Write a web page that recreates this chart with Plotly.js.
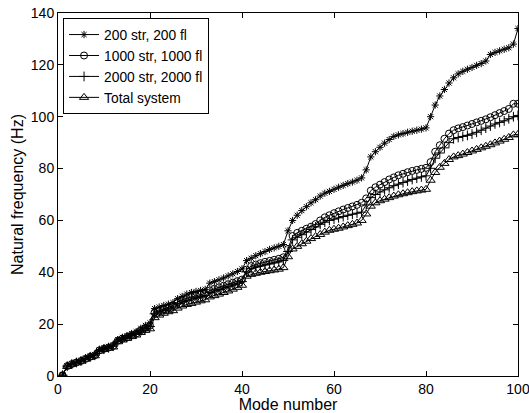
<!DOCTYPE html>
<html>
<head>
<meta charset="utf-8">
<script src="https://cdn.plot.ly/plotly-3.0.1.min.js"></script>
<style>html,body{margin:0;padding:0;background:#fff;}#chart{width:529px;height:413px;}</style>
</head>
<body>
<div id="chart"></div>
<script>
// Mode numbers 1..100 (category index)
const modes = [];
for (let i = 1; i <= 100; i++) modes.push(i);

const seriesNames = ["200 str, 200 fl", "1000 str, 1000 fl", "2000 str, 2000 fl", "Total system"];

const freq200 = [
  0.3, 3.9, 4.8, 5.4, 6.0, 6.9, 7.7, 8.3, 10.2, 10.8, 11.4, 12.0, 14.0, 14.9, 15.6, 16.4, 17.1, 18.4, 19.5, 20.5,
  26.0, 26.6, 27.2, 27.7, 28.3, 29.8, 30.7, 31.6, 32.2, 32.6, 33.0, 33.4, 35.8, 36.4, 37.1, 37.8, 38.6, 39.4, 40.3, 41.3,
  44.5, 45.4, 46.4, 47.2, 48.0, 48.8, 49.4, 50.0, 50.7, 56.0,
  60.0, 62.0, 63.8, 65.3, 66.8, 68.0, 69.4, 70.5, 71.2, 72.0, 72.8, 73.5, 74.2, 74.8, 75.5, 76.4,
  79.5, 84.5, 86.5, 88.2, 89.8, 91.2, 92.4, 93.0, 93.5, 94.0, 94.4, 94.8, 95.2, 95.7,
  100.0, 104.5, 108.0, 110.5, 113.0, 115.0, 116.5, 117.5, 118.3, 119.0, 119.8, 120.5, 121.5, 124.0, 124.8, 125.4, 126.0, 126.6, 128.0, 134.0
];

const freq1000 = [
  0.3, 3.8, 4.6, 5.2, 5.8, 6.6, 7.4, 8.0, 9.9, 10.5, 11.0, 11.6, 13.6, 14.4, 15.0, 15.8, 16.4, 17.6, 18.6, 19.4,
  24.5, 25.2, 25.8, 26.4, 27.2, 28.6, 29.4, 30.0, 30.5, 31.0, 31.4, 31.8, 33.0, 33.6, 34.2, 34.8, 35.4, 36.0, 36.6, 37.2,
  41.0, 42.4, 43.0, 43.5, 44.0, 44.4, 44.8, 45.2, 45.8, 49.0,
  54.0, 55.2, 56.0, 56.8, 57.6, 58.6, 60.0, 61.2, 62.0, 62.8, 63.5, 64.2, 64.8, 65.4, 66.0, 66.8,
  68.5, 71.5, 72.8, 73.8, 74.8, 75.8, 76.6, 77.4, 78.0, 78.6, 79.1, 79.5, 79.9, 80.3,
  82.5, 86.5, 89.0, 91.5, 93.5, 94.8, 95.5, 96.0, 96.6, 97.2, 97.8, 98.4, 99.0, 99.8, 100.6, 101.4, 102.2, 103.0, 105.0, 105.0
];

const freq2000 = [
  0.3, 3.8, 4.6, 5.2, 5.8, 6.6, 7.4, 8.0, 9.8, 10.4, 10.9, 11.5, 13.5, 14.3, 14.9, 15.6, 16.2, 17.4, 18.3, 19.1,
  24.0, 24.7, 25.3, 25.9, 26.6, 27.9, 28.6, 29.2, 29.7, 30.2, 30.6, 31.0, 32.2, 32.8, 33.4, 34.0, 34.6, 35.2, 35.8, 36.4,
  40.2, 41.4, 42.0, 42.4, 42.8, 43.2, 43.6, 44.0, 44.6, 48.0,
  52.5, 53.5, 54.5, 55.5, 56.5, 57.5, 58.5, 59.3, 60.0, 60.5, 61.0, 61.5, 62.0, 62.4, 62.8, 63.2,
  66.0, 68.8, 70.0, 71.0, 71.8, 72.6, 73.4, 74.0, 74.6, 75.2, 75.8, 76.3, 76.8, 77.2,
  80.1, 84.0, 86.0, 88.0, 90.0, 91.5, 92.0, 92.4, 92.8, 93.3, 94.0, 94.8, 95.6, 96.4, 97.2, 97.8, 98.4, 99.2, 100.0, 100.5
];

const freqTotal = [
  0.3, 3.7, 4.5, 5.1, 5.7, 6.5, 7.2, 7.8, 9.6, 10.2, 10.7, 11.2, 13.2, 13.9, 14.5, 15.2, 15.8, 16.8, 17.6, 18.2,
  22.5, 23.5, 24.2, 24.8, 25.2, 26.2, 27.0, 27.6, 28.0, 28.5, 29.0, 29.4, 30.5, 31.0, 31.6, 32.2, 32.8, 33.5, 34.2, 35.0,
  38.5, 39.2, 39.6, 40.0, 40.3, 40.6, 40.9, 41.2, 41.8, 46.0,
  49.0, 50.0, 51.0, 52.0, 53.0, 53.8, 54.6, 55.5, 56.2, 56.6, 57.0, 57.5, 58.0, 58.5, 59.0, 60.0,
  62.5, 65.5, 66.8, 67.6, 68.2, 68.8, 69.4, 69.9, 70.3, 70.7, 71.1, 71.4, 71.7, 72.0,
  75.5, 78.5, 80.5, 82.0, 83.5, 84.5, 85.0, 85.6, 86.2, 86.8, 87.4, 88.0, 88.6, 89.2, 89.9, 90.6, 91.3, 92.0, 93.0, 93.2
];

const xTicks = [0, 20, 40, 60, 80, 100];
const yTicks = [0, 20, 40, 60, 80, 100, 120, 140];

const allY = [freq200, freq1000, freq2000, freqTotal];
const symbols = ["asterisk-open", "circle-open", "cross-thin-open", "triangle-up-open"];
const sizes = [6, 7, 7, 8];

const traces = allY.map((ys, i) => ({
  x: modes,
  y: ys,
  name: seriesNames[i],
  type: "scatter",
  mode: "lines+markers",
  line: {color: "black", width: 1},
  marker: {symbol: symbols[i], size: sizes[i], color: "black", line: {color: "black", width: 1}}
}));

const fontFam = "Liberation Sans, Arial, Helvetica, sans-serif";

const layout = {
  width: 529, height: 413,
  margin: {l: 58, r: 11, t: 13, b: 37, pad: 0},
  paper_bgcolor: "white", plot_bgcolor: "white",
  font: {family: fontFam, color: "black", size: 14},
  showlegend: true,
  legend: {
    x: 0.011, y: 0.986, xanchor: "left", yanchor: "top",
    bordercolor: "black", borderwidth: 1, bgcolor: "white",
    font: {family: fontFam, size: 13.8, color: "black"},
    itemwidth: 30, tracegroupgap: 0
  },
  xaxis: {
    range: [0, 100], tickvals: xTicks, ticktext: xTicks.map(String),
    ticks: "inside", ticklen: 5, tickcolor: "black",
    showline: true, linecolor: "black", linewidth: 1, mirror: "ticks",
    showgrid: false, zeroline: false, ticklabeloverflow: "allow",
    tickfont: {size: 14},
    title: {text: "Mode number", font: {size: 16}, standoff: 0}
  },
  yaxis: {
    range: [0, 140], tickvals: yTicks, ticktext: yTicks.map(String),
    ticks: "inside", ticklen: 5, tickcolor: "black",
    showline: true, linecolor: "black", linewidth: 1, mirror: "ticks",
    showgrid: false, zeroline: false, ticklabeloverflow: "allow",
    tickfont: {size: 14},
    title: {text: "Natural frequency (Hz)", font: {size: 16}, standoff: 3}
  }
};

Plotly.newPlot("chart", traces, layout, {displayModeBar: false, staticPlot: true});
</script>
</body>
</html>
